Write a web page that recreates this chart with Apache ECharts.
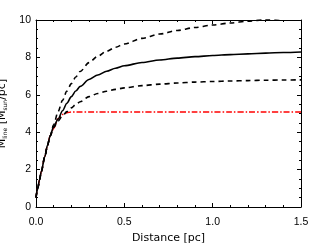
<!DOCTYPE html>
<html>
<head>
<meta charset="utf-8">
<script src="https://cdn.jsdelivr.net/npm/echarts@6/dist/echarts.min.js"></script>
<style>html,body{margin:0;padding:0;background:#fff}#c{width:321px;height:250px}</style>
</head>
<body>
<div id="c"></div>
<script>
// Distance (pc)
var xs = [0, 0.01, 0.02, 0.03, 0.05, 0.065, 0.08, 0.1, 0.125, 0.15, 0.175, 0.2, 0.225, 0.25, 0.3, 0.35, 0.4, 0.45, 0.5, 0.6, 0.7, 0.8, 0.9, 1.0, 1.1, 1.2, 1.3, 1.4, 1.5];
var solid = [0.5, 1.0, 1.45, 1.9, 2.7, 3.3, 3.8, 4.3, 4.7, 5.15, 5.55, 5.9, 6.2, 6.45, 6.82, 7.06, 7.26, 7.42, 7.55, 7.73, 7.86, 7.96, 8.04, 8.1, 8.15, 8.19, 8.23, 8.26, 8.29];
var upperDashed = [0.5, 1.0, 1.45, 1.9, 2.7, 3.3, 3.8, 4.4, 5.1, 5.7, 6.2, 6.6, 6.95, 7.25, 7.72, 8.07, 8.33, 8.54, 8.72, 9.02, 9.25, 9.44, 9.6, 9.73, 9.84, 9.94, 10.02, 10.1, 10.17];
var lowerDashed = [0.5, 1.0, 1.45, 1.9, 2.7, 3.3, 3.8, 4.25, 4.6, 4.88, 5.1, 5.3, 5.48, 5.63, 5.9, 6.07, 6.19, 6.29, 6.37, 6.49, 6.57, 6.63, 6.68, 6.71, 6.74, 6.76, 6.78, 6.79, 6.8];
var redDashDot = [0.5, 1.0, 1.45, 1.9, 2.7, 3.3, 3.8, 4.2, 4.72, 4.95, 5.04, 5.08, 5.08, 5.08, 5.08, 5.08, 5.08, 5.08, 5.08, 5.08, 5.08, 5.08, 5.08, 5.08, 5.08, 5.08, 5.08, 5.08, 5.08];
var xTicks = [0, 0.5, 1.0, 1.5];
var yTicks = [0, 2, 4, 6, 8, 10];

function pairs(ys) { return xs.map(function (x, i) { return [x, ys[i]]; }); }

var FONT = 'DejaVu Sans';
var TFONT = 'Liberation Sans';
var chart = echarts.init(document.getElementById('c'), null, {renderer: 'canvas'});
var axisCommon = {
  axisLine: {show: true, onZero: false, lineStyle: {color: '#000', width: 1}},
  axisTick: {show: true, inside: true, length: 4, lineStyle: {color: '#000'}},
  minorTick: {show: true, length: 2, lineStyle: {color: '#000'}},
  splitLine: {show: false}
};
function xAx(pos, show) {
  return Object.assign({}, axisCommon, {
    type: 'value', position: pos, min: 0, max: 1.5, interval: 0.5,
    minorTick: Object.assign({}, axisCommon.minorTick, {splitNumber: 5}),
    axisLabel: {show: show, color: '#000', fontFamily: TFONT, fontSize: 10.5, margin: 10,
      formatter: function (v) { return xTicks.indexOf(v) >= 0 ? v.toFixed(1) : ''; }},
    name: show ? 'Distance [pc]' : '', nameLocation: 'middle', nameGap: 20,
    nameTextStyle: {color: '#000', fontFamily: FONT, fontSize: 11}
  });
}
function yAx(pos, show) {
  return Object.assign({}, axisCommon, {
    type: 'value', position: pos, min: 0, max: 10, interval: 2,
    minorTick: Object.assign({}, axisCommon.minorTick, {splitNumber: 4}),
    axisLabel: {show: show, color: '#000', fontFamily: TFONT, fontSize: 10.5, margin: 5,
      formatter: function (v) { return yTicks.indexOf(v) >= 0 ? String(v) : ''; }},
    name: show ? '{a|M}{b|line}{a| [M}{b|sun}{a|/pc]}' : '', nameLocation: 'middle', nameGap: 24, nameRotate: 90,
    nameTextStyle: {color: '#000', fontFamily: FONT, fontSize: 11,
      rich: {
        a: {color: '#000', fontFamily: FONT, fontSize: 11, lineHeight: 14},
        b: {color: '#000', fontFamily: FONT, fontSize: 6, lineHeight: 14, padding: [6, 0, 0, 0]}
      }}
  });
}
chart.setOption({
  animation: false,
  backgroundColor: '#fff',
  grid: {left: 36, right: 20, top: 20, bottom: 43, containLabel: false, outerBoundsMode: 'none'},
  xAxis: [xAx('bottom', true), xAx('top', false)],
  yAxis: [yAx('left', true), yAx('right', false)],
  series: [
    {type: 'line', data: pairs(redDashDot), showSymbol: false, smooth: 0.3, smoothMonotone: 'x',
      lineStyle: {color: '#ff0000', width: 1.4, type: [6, 2, 1.5, 2]}, z: 1},
    {type: 'line', data: pairs(lowerDashed), showSymbol: false, smooth: 0.3, smoothMonotone: 'x',
      lineStyle: {color: '#000', width: 1.6, type: [5, 4]}, z: 2},
    {type: 'line', data: pairs(upperDashed), showSymbol: false, smooth: 0.3, smoothMonotone: 'x',
      lineStyle: {color: '#000', width: 1.6, type: [5, 4]}, z: 2},
    {type: 'line', data: pairs(solid), showSymbol: false, smooth: 0.3, smoothMonotone: 'x',
      lineStyle: {color: '#000', width: 1.6, type: 'solid'}, z: 3}
  ]
});
</script>
</body>
</html>
